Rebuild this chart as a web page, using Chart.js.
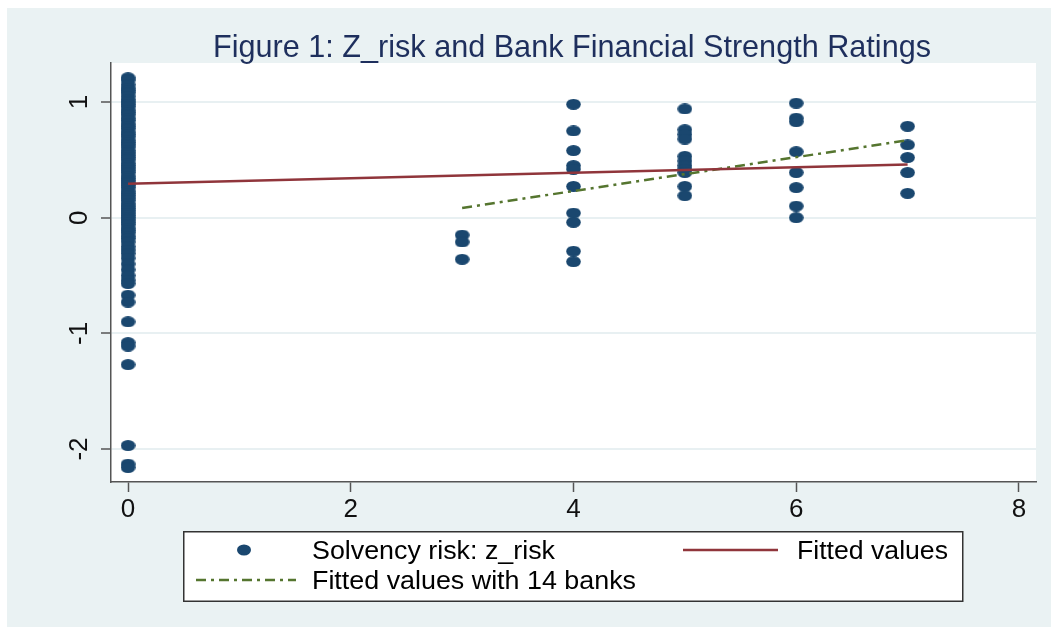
<!DOCTYPE html>
<html>
<head>
<meta charset="utf-8">
<script src="https://cdn.jsdelivr.net/npm/chart.js@4.4.1/dist/chart.umd.min.js"></script>
<style>
  html, body { margin: 0; padding: 0; background: #ffffff; }
  #wrap { position: relative; width: 1051px; height: 627px; overflow: hidden; }
  #c { position: absolute; left: 0; top: 0; }
  #ov { position: absolute; left: 0; top: 0; font-family: "Liberation Sans", Arial, sans-serif; }
</style>
</head>
<body>
<div id="wrap">
  <canvas id="c" width="1051" height="627"></canvas>
  <svg id="ov" width="1051" height="627" xmlns="http://www.w3.org/2000/svg">
    <text x="572" y="57" text-anchor="middle" font-size="30.5" fill="#1e2f5d" textLength="718" lengthAdjust="spacingAndGlyphs">Figure 1: Z_risk and Bank Financial Strength Ratings</text>
    <rect x="183.75" y="531.75" width="779" height="69.5" fill="#ffffff" stroke="#333333" stroke-width="1.5"/>
    <ellipse cx="244" cy="550" rx="7" ry="5.5" fill="#1a476f"/>
    <text x="312" y="559" font-size="26.5" fill="#000" textLength="243" lengthAdjust="spacingAndGlyphs">Solvency risk: z_risk</text>
    <line x1="683" y1="550" x2="778" y2="550" stroke="#90353b" stroke-width="2.5"/>
    <text x="797" y="559" font-size="26.5" fill="#000" textLength="151" lengthAdjust="spacingAndGlyphs">Fitted values</text>
    <line x1="196" y1="580" x2="296" y2="580" stroke="#55752f" stroke-width="2.5" stroke-dasharray="10 5 3 5"/>
    <text x="312" y="589" font-size="26.5" fill="#000" textLength="324" lengthAdjust="spacingAndGlyphs">Fitted values with 14 banks</text>
  </svg>
</div>
<script>
// ---- data ----
const rating0 = [1.21, 1.19, 1.15, 1.12, 1.10, 1.08, 1.05, 1.02, 1.00, 0.98, 0.96, 0.93, 0.91, 0.89, 0.86, 0.84, 0.81, 0.79, 0.77, 0.74, 0.72, 0.70, 0.67, 0.65, 0.63, 0.61, 0.58, 0.56, 0.54, 0.52, 0.50, 0.47, 0.45, 0.43, 0.41, 0.39, 0.36, 0.34, 0.32, 0.30, 0.28, 0.26, 0.23, 0.21, 0.19, 0.17, 0.15, 0.12, 0.10, 0.08, 0.06, 0.04, 0.02, 0.00, -0.02, -0.04, -0.06, -0.09, -0.11, -0.13, -0.16, -0.18, -0.21, -0.25, -0.28, -0.31, -0.35, -0.40, -0.45, -0.50, -0.54, -0.57, -0.67, -0.73, -0.90, -1.08, -1.11, -1.27, -1.97, -2.13, -2.16];
const rating3 = [-0.15, -0.21, -0.36];
const rating4 = [0.98, 0.75, 0.58, 0.45, 0.42, 0.27, 0.04, -0.04, -0.29, -0.38];
const rating5 = [0.94, 0.76, 0.72, 0.68, 0.53, 0.49, 0.45, 0.42, 0.39, 0.27, 0.19];
const rating6 = [0.99, 0.86, 0.83, 0.57, 0.39, 0.26, 0.10, 0.00];
const rating7 = [0.79, 0.63, 0.52, 0.39, 0.21];
const ratingGroups = [[0, rating0], [3, rating3], [4, rating4], [5, rating5], [6, rating6], [7, rating7]];
const fittedAll = [[0, 0.294], [7, 0.459]];
const fitted14 = [[3, 0.084], [7, 0.669]];
const xTicks = [0, 2, 4, 6, 8];
const yTicks = [-2, -1, 0, 1];
const xRange = [-0.153, 8.153];
const yRange = [-2.285, 1.337];

// ---- build library data ----
const scatterPts = [];
ratingGroups.forEach(([x, ys]) => ys.forEach(y => scatterPts.push({ x: x, y: y })));
const toPts = arr => arr.map(([x, y]) => ({ x: x, y: y }));

// elliptical marker
const dot = document.createElement('canvas');
dot.width = 15; dot.height = 11;
(function () {
  const g = dot.getContext('2d');
  g.fillStyle = '#1a476f';
  g.beginPath();
  g.ellipse(7.5, 5.5, 7.3, 5.5, 0, 0, Math.PI * 2);
  g.fill();
})();

const FONT = '26px "Liberation Sans", Arial, sans-serif';

const bgPlugin = {
  id: 'bg',
  beforeDraw(chart) {
    const ctx = chart.ctx, a = chart.chartArea;
    ctx.save();
    ctx.fillStyle = '#ffffff';
    ctx.fillRect(0, 0, chart.width, chart.height);
    ctx.fillStyle = '#eaf2f3';
    ctx.fillRect(7, 8, chart.width - 7, chart.height - 8);
    ctx.fillStyle = '#ffffff';
    ctx.fillRect(a.left, a.top, a.right - a.left, a.bottom - a.top);
    ctx.restore();
  },
  afterDraw(chart) {
    const ctx = chart.ctx;
    const xs = chart.scales.x, ys = chart.scales.y;
    ctx.save();
    ctx.font = FONT;
    ctx.fillStyle = '#111111';
    ctx.textBaseline = 'alphabetic';
    ctx.textAlign = 'center';
    xs.ticks.forEach(t => {
      ctx.fillText(String(t.value), xs.getPixelForValue(t.value), 517);
    });
    ys.ticks.forEach(t => {
      ctx.save();
      ctx.translate(87, ys.getPixelForValue(t.value));
      ctx.rotate(-Math.PI / 2);
      ctx.fillText(String(t.value), 0, 0);
      ctx.restore();
    });
    ctx.restore();
  }
};

new Chart(document.getElementById('c'), {
  type: 'scatter',
  data: {
    datasets: [
      {
        type: 'line', label: 'Fitted values', data: toPts(fittedAll),
        borderColor: '#90353b', borderWidth: 2.5, pointRadius: 0, fill: false, tension: 0
      },
      {
        type: 'line', label: 'Fitted values with 14 banks', data: toPts(fitted14),
        borderColor: '#55752f', borderWidth: 2.5, borderDash: [10, 5, 3, 5], pointRadius: 0, fill: false, tension: 0
      },
      {
        type: 'scatter', label: 'Solvency risk: z_risk', data: scatterPts,
        pointStyle: dot, pointRadius: 7, backgroundColor: '#1a476f', borderWidth: 0
      }
    ]
  },
  options: {
    responsive: false,
    animation: false,
    devicePixelRatio: 1,
    layout: { padding: { top: 63, right: 15, left: 0, bottom: 0 } },
    plugins: { legend: { display: false }, title: { display: false }, tooltip: { enabled: false } },
    scales: {
      x: {
        type: 'linear', min: xRange[0], max: xRange[1],
        afterBuildTicks: s => { s.ticks = xTicks.map(v => ({ value: v })); },
        afterFit: s => { s.height = 145; },
        ticks: { display: false },
        grid: { drawOnChartArea: false, drawTicks: true, tickLength: 10, tickColor: '#555555', tickWidth: 1.5 },
        border: { display: true, color: '#555555', width: 1.5 }
      },
      y: {
        type: 'linear', min: yRange[0], max: yRange[1],
        afterBuildTicks: s => { s.ticks = yTicks.map(v => ({ value: v })); },
        afterFit: s => { s.width = 111; },
        ticks: { display: false },
        grid: { drawOnChartArea: true, color: '#e8f0f2', lineWidth: 2, drawTicks: true, tickLength: 10, tickColor: '#555555', tickWidth: 1.5 },
        border: { display: true, color: '#555555', width: 1.5 }
      }
    }
  },
  plugins: [bgPlugin]
});
</script>
</body>
</html>
